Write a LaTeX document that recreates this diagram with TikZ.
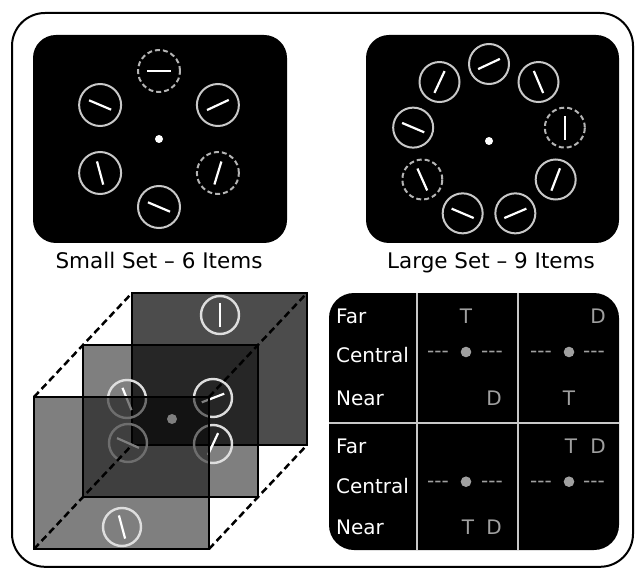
\documentclass[tikz,border=0pt]{standalone}
\usepackage{fontspec}
\setmainfont{DejaVu Sans}
\usepackage{tikz}
\definecolor{ringgray}{RGB}{200,200,200}
\definecolor{dashgray}{RGB}{180,180,180}
\definecolor{cubegray}{RGB}{222,222,222}
\definecolor{textgray}{RGB}{160,160,160}

\begin{document}
\begin{tikzpicture}[x=1pt,y=1pt,
    ring/.style={draw=ringgray,line width=2pt},
    dashring/.style={draw=dashgray,line width=2pt,dash pattern=on 5pt off 3pt},
    bar/.style={draw=white,line width=2.2pt},
    cubering/.style={draw=cubegray,line width=2.4pt},
    panel/.style={draw=black,line width=1.8pt,fill=black,minimum width=175pt,
        minimum height=152pt,inner sep=0pt,outer sep=0pt},
    link/.style={black,line width=2.5pt,dash pattern=on 7pt off 4pt},
    gridline/.style={draw=ringgray,line width=1.2pt},
    setlabel/.style={font=\fontsize{21.5}{26}\selectfont,anchor=base,inner sep=0pt},
    rowlabel/.style={font=\fontsize{20}{24}\selectfont,text=white,anchor=base west,inner sep=0pt},
    tdlabel/.style={font=\fontsize{20}{24}\selectfont,text=textgray,anchor=base,inner sep=0pt}]
    \useasboundingbox (0,0) rectangle (636,568);
    \draw[line width=2pt,rounded corners=33] (12,1.2) rectangle (633,555);

    % small set - 6 items
    \fill[rounded corners=23] (33,325) rectangle (287,533);
    \fill[white] (159,429) circle (4);
    \draw[dashring] (159,429) ++(90:68) circle (21);
    \draw[bar] (159,429) ++(90:68) ++(0:-12) -- ++(0:24);
    \draw[ring] (159,429) ++(30:68) circle (21);
    \draw[bar] (159,429) ++(30:68) ++(25:-12) -- ++(25:24);
    \draw[dashring] (159,429) ++(-30:68) circle (21);
    \draw[bar] (159,429) ++(-30:68) ++(73:-12) -- ++(73:24);
    \draw[ring] (159,429) ++(-90:68) circle (21);
    \draw[bar] (159,429) ++(-90:68) ++(-23:-12) -- ++(-23:24);
    \draw[ring] (159,429) ++(-150:68) circle (21);
    \draw[bar] (159,429) ++(-150:68) ++(105:-12) -- ++(105:24);
    \draw[ring] (159,429) ++(150:68) circle (21);
    \draw[bar] (159,429) ++(150:68) ++(-23:-12) -- ++(-23:24);
    \node[setlabel] (small) at (159,299) {Small Set – 6 Items};

    % large set - 9 items
    \fill[rounded corners=23] (366,325) rectangle (619,533);
    \fill[white] (489,427) circle (4);
    \draw[ring] (489,427) ++(90:77) circle (20);
    \draw[bar] (489,427) ++(90:77) ++(25:-12) -- ++(25:24);
    \draw[ring] (489,427) ++(130:77) circle (20);
    \draw[bar] (489,427) ++(130:77) ++(65:-12) -- ++(65:24);
    \draw[ring] (489,427) ++(170:77) circle (20);
    \draw[bar] (489,427) ++(170:77) ++(-23:-12) -- ++(-23:24);
    \draw[dashring] (489,427) ++(210:77) circle (20);
    \draw[bar] (489,427) ++(210:77) ++(114:-12) -- ++(114:24);
    \draw[ring] (489,427) ++(250:77) circle (20);
    \draw[bar] (489,427) ++(250:77) ++(-23:-12) -- ++(-23:24);
    \draw[ring] (489,427) ++(290:77) circle (20);
    \draw[bar] (489,427) ++(290:77) ++(23:-12) -- ++(23:24);
    \draw[ring] (489,427) ++(330:77) circle (20);
    \draw[bar] (489,427) ++(330:77) ++(69:-12) -- ++(69:24);
    \draw[dashring] (489,427) ++(10:77) circle (20);
    \draw[bar] (489,427) ++(10:77) ++(90:-12) -- ++(90:24);
    \draw[ring] (489,427) ++(50:77) circle (20);
    \draw[bar] (489,427) ++(50:77) ++(113:-12) -- ++(113:24);
    \node[setlabel] (large) at (491,299) {Large Set – 9 Items};

    % depth planes
    \node[panel,fill opacity=0.7] (back) at (219.5,199) {};
    \draw[cubering] (220,253) circle (19);
    \draw[bar] (220,253) ++(90:-12) -- ++(90:24);
    \node[panel,fill opacity=0.5] (middle) at (170.5,147) {};
    \fill[white] (172,149) circle (5);
    \draw[cubering] (127,169) circle (19);
    \draw[bar] (127,169) ++(112:-12) -- ++(112:24);
    \draw[cubering] (213,170) circle (19);
    \draw[bar] (213,170) ++(21:-12) -- ++(21:24);
    \draw[cubering] (128,125) circle (19);
    \draw[bar] (128,125) ++(-24:-12) -- ++(-24:24);
    \draw[cubering] (213,124) circle (19);
    \draw[bar] (213,124) ++(65:-12) -- ++(65:24);
    \node[panel,fill opacity=0.5] (front) at (121.5,95) {};
    \draw[cubering] (122,41) circle (19);
    \draw[bar] (122,41) ++(105:-12) -- ++(105:24);
    \draw[link] (front.north west) -- (back.north west);
    \draw[link] (front.north east) -- (back.north east);
    \draw[link] (front.south west) -- (back.south west);
    \draw[link] (front.south east) -- (back.south east);

    % target / distractor table
    \fill[rounded corners=25] (329,18) rectangle (619,275);
    \draw[gridline] (417,18) -- (417,275);
    \draw[gridline] (518,18) -- (518,275);
    \draw[gridline] (329,145) -- (619,145);

    \node[rowlabel] (far1) at (336,244.5) {Far};
    \node[rowlabel] (central1) at (336,205.3) {Central};
    \node[rowlabel] (near1) at (336,163) {Near};
    \node[rowlabel] (far2) at (336,115) {Far};
    \node[rowlabel] (central2) at (336,74.7) {Central};
    \node[rowlabel] (near2) at (336,33.7) {Near};

    \node[tdlabel] (t1) at (466,244.5) {T};
    \node[tdlabel] (d1) at (494,163) {D};
    \node[tdlabel] (d2) at (598,244.5) {D};
    \node[tdlabel] (t2) at (569,163) {T};
    \node[tdlabel] (t3) at (468,33.7) {T};
    \node[tdlabel] (d3) at (494,33.7) {D};
    \node[tdlabel] (t4) at (571,115) {T};
    \node[tdlabel] (d4) at (598,115) {D};

    \fill[textgray] (466,216) circle (5.3);
    \node[tdlabel] (left1) at (438,210.6) {\mbox{-}\mbox{-}\mbox{-}};
    \node[tdlabel] (right1) at (492,210.6) {\mbox{-}\mbox{-}\mbox{-}};
    \fill[textgray] (569,216) circle (5.3);
    \node[tdlabel] (left2) at (541,210.6) {\mbox{-}\mbox{-}\mbox{-}};
    \node[tdlabel] (right2) at (594,210.6) {\mbox{-}\mbox{-}\mbox{-}};
    \fill[textgray] (466,86.3) circle (5.3);
    \node[tdlabel] (left3) at (438,80.9) {\mbox{-}\mbox{-}\mbox{-}};
    \node[tdlabel] (right3) at (492,80.9) {\mbox{-}\mbox{-}\mbox{-}};
    \fill[textgray] (569,86.3) circle (5.3);
    \node[tdlabel] (left4) at (541,80.9) {\mbox{-}\mbox{-}\mbox{-}};
    \node[tdlabel] (right4) at (594,80.9) {\mbox{-}\mbox{-}\mbox{-}};
\end{tikzpicture}
\end{document}
